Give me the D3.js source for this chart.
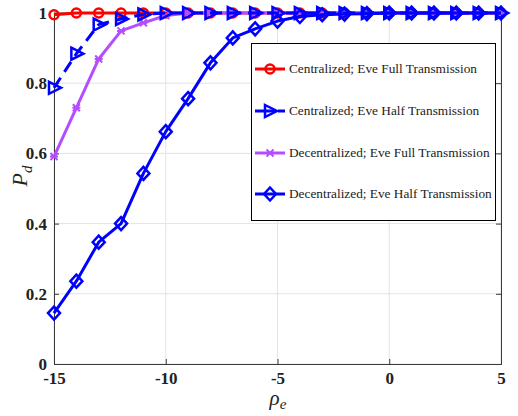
<!DOCTYPE html>
<html><head><meta charset="utf-8">
<script src="https://cdn.jsdelivr.net/npm/d3@7"></script>
<style>body{margin:0;background:#fff}svg{display:block}</style>
</head><body>
<svg id="c" width="518" height="416"></svg>
<script>
const xValues = [-15,-14,-13,-12,-11,-10,-9,-8,-7,-6,-5,-4,-3,-2,-1,0,1,2,3,4,5];
const centralFull = [0.995,1,1,1,1,1,1,1,1,1,1,1,1,1,1,1,1,1,1,1,1];
const centralHalf = [0.787,0.884,0.967,0.983,0.996,1,1,1,1,1,1,1,1,1,1,1,1,1,1,1,1];
const decentralFull = [0.591,0.73,0.869,0.949,0.972,0.993,1,1,1,1,1,1,1,1,1,1,1,1,1,1,1];
const decentralHalf = [0.145,0.236,0.347,0.40,0.543,0.662,0.756,0.858,0.929,0.955,0.977,0.99,0.995,0.997,0.998,1,1,1,1,1,1];
const xTicks = [-15,-10,-5,0,5];
const yTicks = [0,0.2,0.4,0.6,0.8,1];
const seriesNames = ["Centralized; Eve Full Transmission","Centralized; Eve Half Transmission","Decentralized; Eve Full Transmission","Decentralized; Eve Half Transmission"];

const svg = d3.select("#c");
const L=54, R=501, T=13, B=364;
const x = d3.scaleLinear().domain([-15,5]).range([L,R]);
const y = d3.scaleLinear().domain([0,1]).range([B,T]);
const axisColor = "#3a3a3a";
const font = "Liberation Serif";

// grid
svg.append("g").selectAll("line").data(xTicks).join("line")
  .attr("x1",d=>x(d)).attr("x2",d=>x(d)).attr("y1",T).attr("y2",B)
  .attr("stroke","#e3e3e3").attr("stroke-width",1);
svg.append("g").selectAll("line").data(yTicks).join("line")
  .attr("x1",L).attr("x2",R).attr("y1",d=>y(d)).attr("y2",d=>y(d))
  .attr("stroke","#e3e3e3").attr("stroke-width",1);

// axes
const xAxis = d3.axisBottom(x).tickValues(xTicks).tickSize(-5).tickPadding(8).tickFormat(d=>d<0?"-"+Math.abs(d):d);
const yAxis = d3.axisLeft(y).tickValues(yTicks).tickSize(-5).tickPadding(7).tickFormat(d=>d===0||d===1?d:d.toFixed(1));
const gx = svg.append("g").attr("transform",`translate(0,${B})`).call(xAxis);
const gy = svg.append("g").attr("transform",`translate(${L},0)`).call(yAxis);
[gx,gy].forEach(g=>{
  g.attr("font-family",font);
  g.select(".domain").attr("stroke",axisColor);
  g.selectAll(".tick line").attr("stroke",axisColor);
  g.selectAll("text").attr("fill","#222").attr("font-family",font).attr("font-weight","bold").attr("font-size","17px");
});
gx.selectAll("text").attr("dy","0.68em");
// right axis ticks and box
const gr = svg.append("g").attr("transform",`translate(${R},0)`).call(d3.axisRight(y).tickValues(yTicks).tickSize(-5).tickFormat(""));
gr.select(".domain").attr("stroke",axisColor);
gr.selectAll(".tick line").attr("stroke",axisColor);
svg.append("line").attr("x1",L).attr("x2",R).attr("y1",T).attr("y2",T).attr("stroke",axisColor);

// labels
svg.append("text").attr("transform","translate(27,176) rotate(-90)").attr("text-anchor","middle")
  .attr("font-family",font).attr("font-style","italic").attr("font-size","22px").attr("fill","#222")
  .html('P<tspan dy="5" font-size="15px">d</tspan>');
svg.append("text").attr("x",278).attr("y",405).attr("text-anchor","middle")
  .attr("font-family",font).attr("font-style","italic").attr("font-size","21px").attr("fill","#222")
  .html('ρ<tspan dy="4" font-size="15px">e</tspan>');

// markers
function marker(g, type, color, cx, cy){
  if(type==="circle"){
    g.append("circle").attr("cx",cx).attr("cy",cy).attr("r",4.5).attr("fill","none").attr("stroke",color).attr("stroke-width",2.5);
  } else if(type==="tri"){
    g.append("path").attr("d",`M${cx-5},${cy-6}L${cx+7},${cy}L${cx-5},${cy+6}Z`).attr("fill","none").attr("stroke",color).attr("stroke-width",2.5);
  } else if(type==="x"){
    g.append("path").attr("d",`M${cx-3.5},${cy-3.5}L${cx+3.5},${cy+3.5}M${cx-3.5},${cy+3.5}L${cx+3.5},${cy-3.5}M${cx-4},${cy}L${cx+4},${cy}`).attr("fill","none").attr("stroke",color).attr("stroke-width",2);
  } else if(type==="diamond"){
    g.append("path").attr("d",`M${cx},${cy-6.5}L${cx+6},${cy}L${cx},${cy+6.5}L${cx-6},${cy}Z`).attr("fill","none").attr("stroke",color).attr("stroke-width",2.5);
  }
}
const series = [
  {vals:centralFull, color:"#ff0000", dash:null, m:"circle"},
  {vals:centralHalf, color:"#0000ff", dash:"12,7", m:"tri"},
  {vals:decentralFull, color:"#b44dff", dash:null, m:"x"},
  {vals:decentralHalf, color:"#0000ff", dash:null, m:"diamond"}
];
const order=[0,2,1,3];
const line = d3.line().x((d,i)=>x(xValues[i])).y(d=>y(d));
order.forEach(k=>{
  const s=series[k];
  const g=svg.append("g");
  g.append("path").attr("d",line(s.vals)).attr("fill","none").attr("stroke",s.color).attr("stroke-width",3)
    .attr("stroke-dasharray",s.dash).attr("stroke-linejoin","round");
  s.vals.forEach((v,i)=>marker(g,s.m,s.color,x(xValues[i]),y(v)));
});

// legend
const lg = svg.append("g");
lg.append("rect").attr("x",251.5).attr("y",43.5).attr("width",244).attr("height",177).attr("fill","#fff").attr("stroke","#000").attr("stroke-width",1);
const ly=[69,111,153,194];
series.forEach((s,k)=>{
  const g=lg.append("g");
  g.append("line").attr("x1",255).attr("x2",285).attr("y1",ly[k]).attr("y2",ly[k]).attr("stroke",s.color).attr("stroke-width",3).attr("stroke-dasharray",s.dash?"20,3":null);
  marker(g,s.m,s.color,270,ly[k]);
  g.append("text").attr("x",289).attr("y",ly[k]+4).text(seriesNames[k])
    .attr("font-family",font).attr("font-size","13.3px").attr("fill","#222");
});
</script>
</body></html>
